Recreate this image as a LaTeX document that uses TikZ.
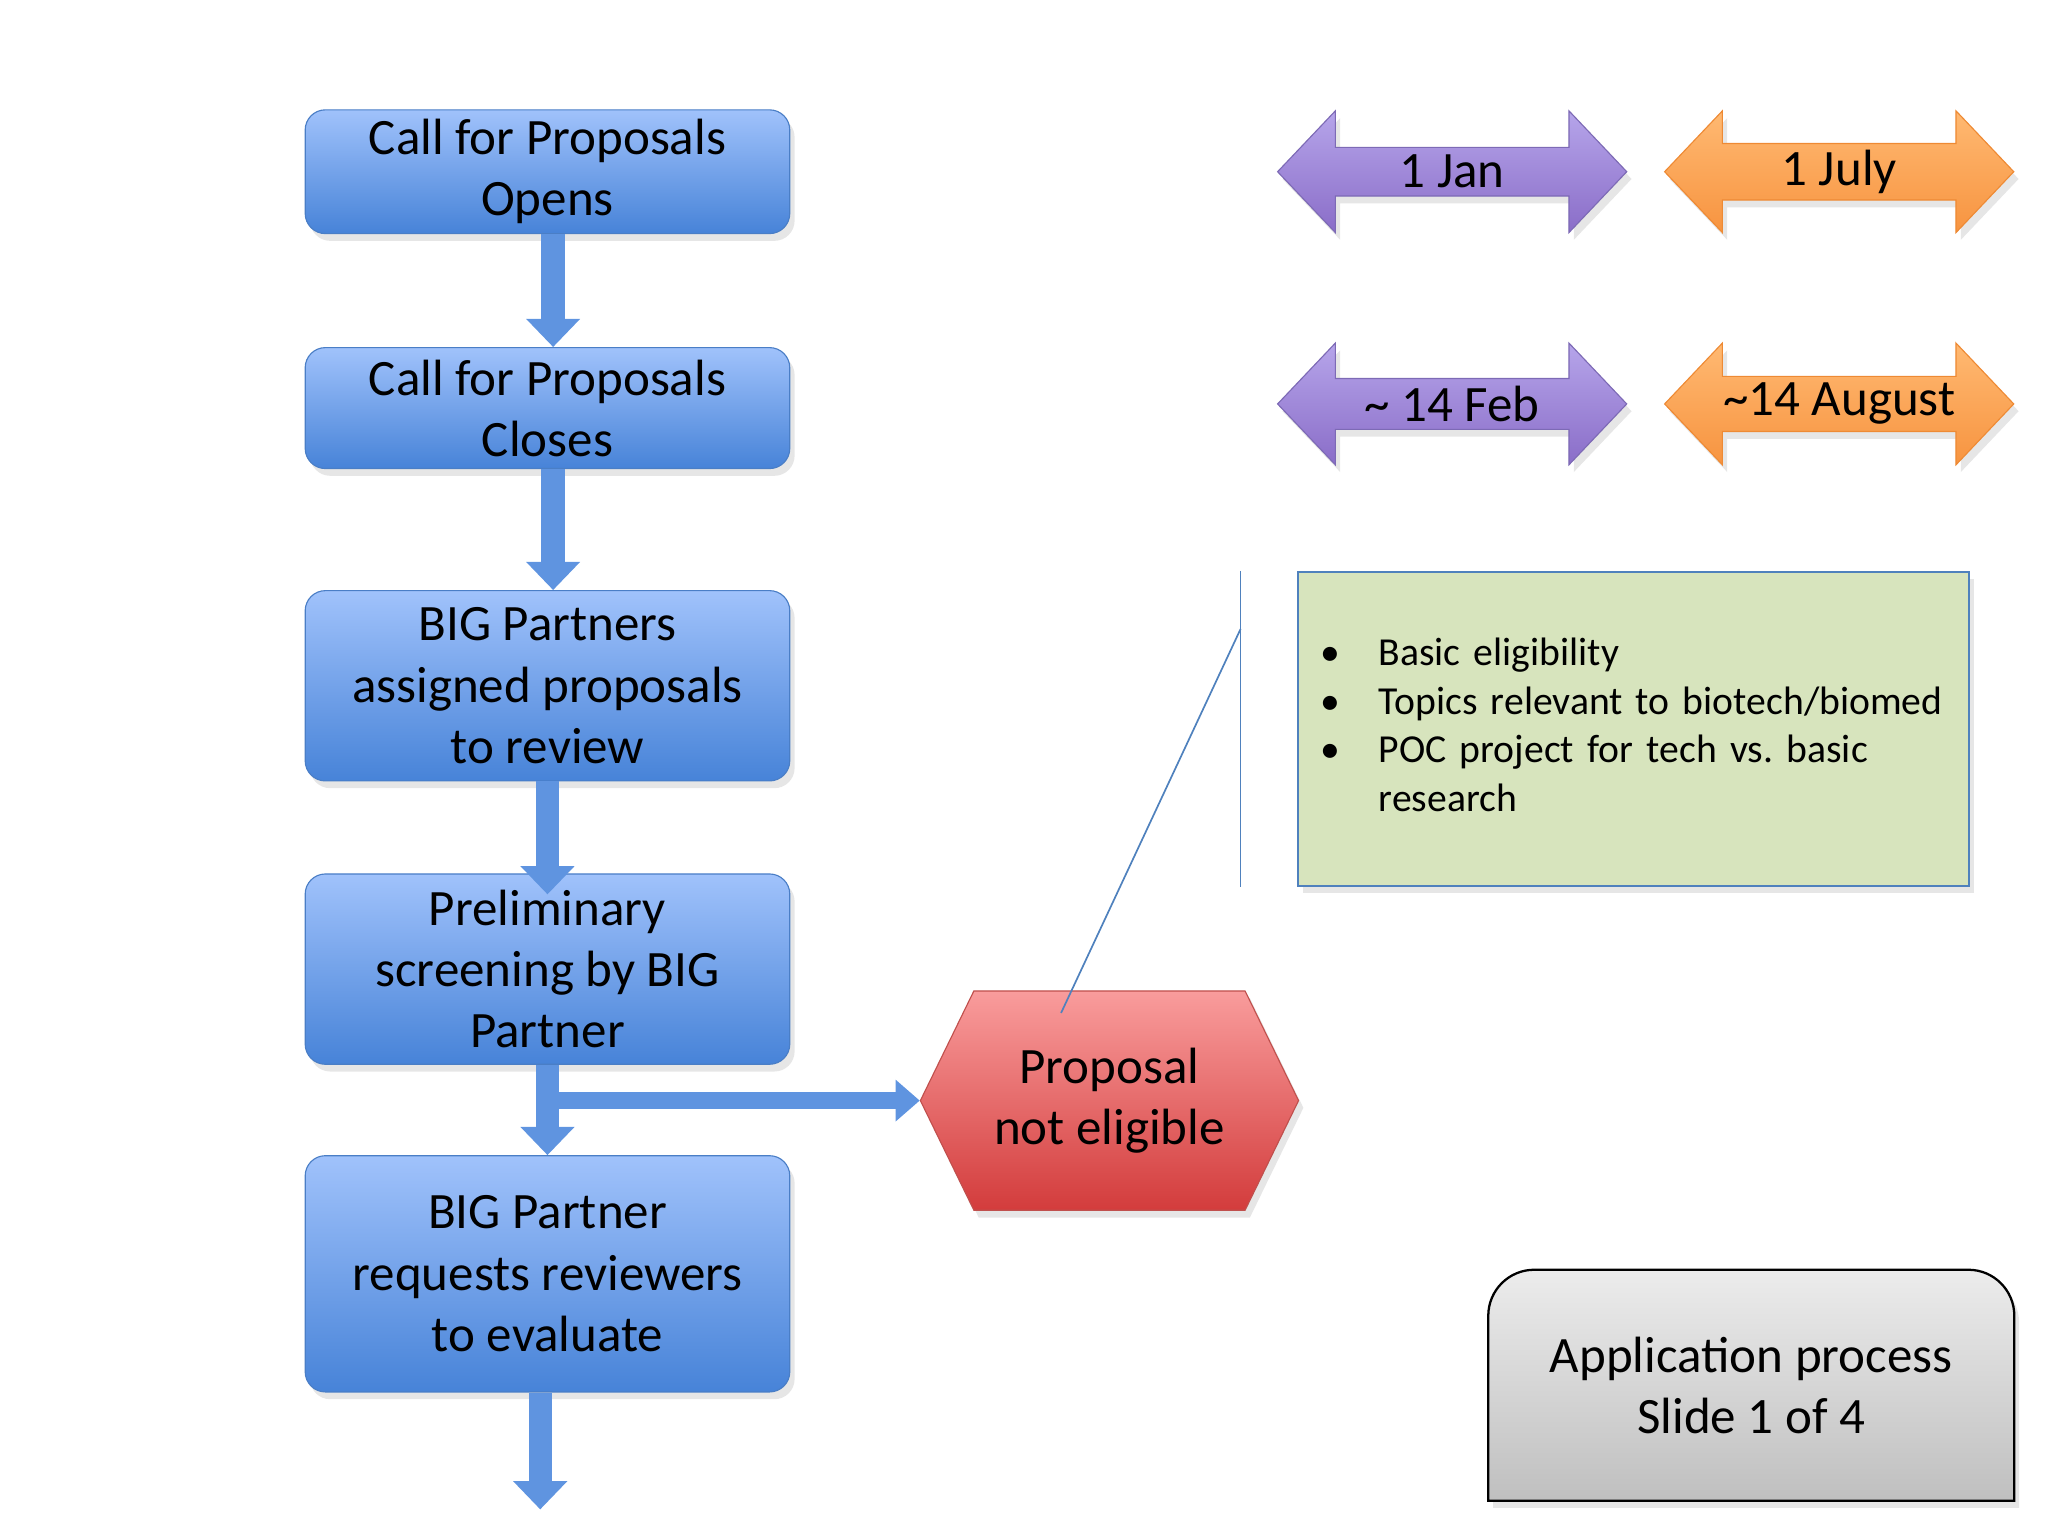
\documentclass[tikz,border=0pt]{standalone}
\usepackage{fontspec}
\setmainfont{Carlito}
\usetikzlibrary{positioning,shapes.arrows,shapes.symbols,shadows,arrows.meta,backgrounds}
\definecolor{boxtop}{HTML}{A0C2FB}
\definecolor{boxbottom}{HTML}{4783D8}
\definecolor{boxline}{HTML}{4A7EC6}
\definecolor{flowblue}{HTML}{5F94E0}
\definecolor{purpletop}{HTML}{B6A5EA}
\definecolor{purplebottom}{HTML}{8A6DC8}
\definecolor{purpleline}{HTML}{7D6AB5}
\definecolor{orangetop}{HTML}{FFB972}
\definecolor{orangebottom}{HTML}{F79440}
\definecolor{orangeline}{HTML}{EE8A34}
\definecolor{redtop}{HTML}{F99C9C}
\definecolor{redbottom}{HTML}{D33C3C}
\definecolor{redline}{HTML}{C0504D}
\definecolor{notegreen}{HTML}{D7E4BD}
\definecolor{noteline}{HTML}{4F81BD}
\begin{document}
\begin{tikzpicture}[
    shade/.style = {drop shadow={shadow xshift=0.06cm, shadow yshift=-0.09cm, opacity=0.2}},
    stepbox/.style = {rectangle, rounded corners=0.25cm, draw=boxline, top color=boxtop, bottom color=boxbottom,
      minimum width=6.01cm, align=center, font=\fontsize{18}{21.6}\selectfont, shade},
    flow/.style = {draw=flowblue, line width=0.29cm, -{Triangle[width=0.65cm, length=0.35cm]}},
    sideflow/.style = {draw=flowblue, line width=0.22cm, -{Triangle[width=0.5cm, length=0.3cm]}},
    datearrow/.style = {double arrow, double arrow head extend=0.32cm, double arrow tip angle=93,
      minimum width=1.51cm, minimum height=4.33cm, inner sep=0pt, font=\fontsize{18}{21.6}\selectfont, shade},
    spring/.style = {datearrow, draw=purpleline, top color=purpletop, bottom color=purplebottom},
    autumn/.style = {datearrow, draw=orangeline, top color=orangetop, bottom color=orangebottom},
    rejectbox/.style = {signal, signal to=east and west, signal pointer angle=128, draw=redline,
      top color=redtop, bottom color=redbottom, minimum width=4.69cm, minimum height=2.72cm,
      align=center, font=\fontsize{18}{21.6}\selectfont, shade},
    notebox/.style = {rectangle, draw=noteline, line width=0.8pt, fill=notegreen, minimum width=8.32cm,
      minimum height=3.89cm, inner xsep=0.28cm, text width=7.76cm, align=left,
      font=\fontsize{14}{17.1}\selectfont, shade},
    callout/.style = {draw=noteline, line width=0.6pt},
    node distance = 1.4cm
  ]
  \useasboundingbox (0,0) rectangle (25.4,19.05);

  \node[stepbox, minimum height=1.50cm] (open) at (6.79,16.92) {Call for Proposals\\Opens};
  \node[stepbox, minimum height=1.50cm] (close) [below = 1.40cm of open] {Call for Proposals\\Closes};
  \node[stepbox, minimum height=2.36cm] (assign) [below = 1.50cm of close] {BIG Partners\\assigned proposals\\to review};
  \node[stepbox, minimum height=2.36cm] (screen) [below = 1.14cm of assign] {Preliminary\\screening by BIG\\Partner};
  \node[stepbox, minimum height=2.93cm] (request) [below = 1.12cm of screen] {BIG Partner\\requests reviewers\\to evaluate};
  \coordinate (next) at ([xshift=-0.09cm, yshift=-1.45cm]request.south);

  \node[rejectbox] (reject) at (13.76,5.40) {Proposal\\not eligible};
  \coordinate (split) at (screen.south |- reject.west);

  \draw[flow] ([xshift=0.07cm]open.south) -- ([xshift=0.07cm]close.north);
  \draw[flow] ([xshift=0.07cm]close.south) -- ([xshift=0.07cm]assign.north);
  \draw[flow] (assign.south) -- ([yshift=-0.26cm]screen.north);
  \draw[flow] (screen.south) -- (request.north);
  \draw[flow] ([xshift=-0.09cm]request.south) -- (next);
  \draw[sideflow] (split) -- (reject.west);

  \node[spring] (jan) at (18.01,16.92) {1 Jan};
  \node[autumn] (july) at (22.81,16.92) {1 July};
  \node[spring] (feb) at (18.01,14.04) {\textasciitilde\ 14 Feb};
  \node[autumn] (aug) at (22.81,14.04) {\textasciitilde14 August};

  \node[notebox] (criteria) at (20.26,10.01) {%
    \begin{tabular}{@{}p{0.72cm}@{}l@{}}
      \textbullet & Basic eligibility\\
      \textbullet & Topics relevant to biotech/biomed\\
      \textbullet & POC project for tech vs.\ basic\\
                  & research
    \end{tabular}};
  \coordinate (bartop) at ([xshift=-0.7cm]criteria.north west);
  \coordinate (barbottom) at ([xshift=-0.7cm]criteria.south west);
  \coordinate (barjoint) at ([yshift=-0.72cm]bartop);
  \coordinate (tail) at ([xshift=-0.6cm, yshift=-0.28cm]reject.north);
  \draw[callout] (bartop) -- (barbottom);
  \draw[callout] (barjoint) -- (tail);

  \node[minimum width=6.51cm, minimum height=2.85cm, align=center, font=\fontsize{18}{21.6}\selectfont]
    (slide) at (21.72,1.87) {Application process\\Slide 1 of 4};
  \begin{scope}[on background layer]
    \draw[line width=0.8pt, top color=gray!15, bottom color=gray!50, shade]
      (slide.south west) [rounded corners=0.57cm] -- (slide.north west) -- (slide.north east)
      [sharp corners] -- (slide.south east) -- cycle;
  \end{scope}
\end{tikzpicture}
\end{document}
